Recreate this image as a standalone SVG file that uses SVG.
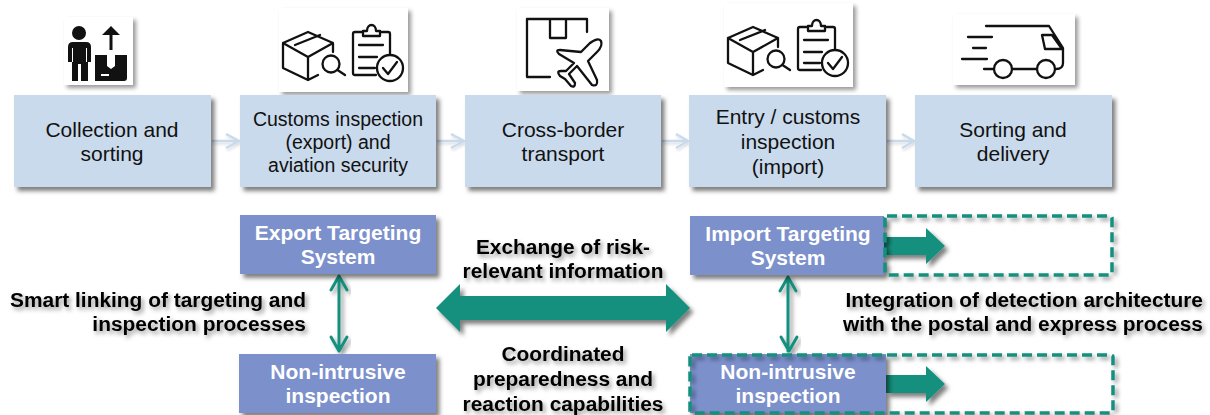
<svg xmlns="http://www.w3.org/2000/svg" width="1210" height="415" viewBox="0 0 1210 415">
<style>
text{font-family:"Liberation Sans",Arial,sans-serif;text-anchor:middle}
.step{fill:#c9daec;filter:url(#sh)}
.sys{fill:#7b90cc;filter:url(#sh)}
.card{fill:#fff;filter:url(#shs)}
.st{font-size:21px;fill:#111}
.sm{font-size:19.500px}
.wt{font-size:21px;font-weight:bold;fill:#fff}
.bt{font-size:20.900px;font-weight:bold;fill:#000;filter:url(#ts)}
.bte{text-anchor:end}
.ln{fill:none;stroke:#111;stroke-width:2.300;stroke-linecap:round;stroke-linejoin:round}
.dash{fill:none;stroke:#15907e;stroke-width:3.500;stroke-dasharray:10 5;filter:url(#shs)}
.thin{fill:none;stroke:#15907e;stroke-width:3;stroke-linecap:round;stroke-linejoin:round;filter:url(#shs)}
.big{fill:#15907e;filter:url(#sh)}
.flow{fill:none;stroke:#c9daec;stroke-width:2.500;filter:url(#shl)}
</style>
<defs>
<filter id="sh" x="-10%" y="-15%" width="125%" height="140%"><feDropShadow dx="3.500" dy="4" stdDeviation="2.200" flood-color="#000" flood-opacity=".5"/></filter>
<filter id="shs" x="-15%" y="-15%" width="135%" height="135%"><feDropShadow dx="3" dy="3" stdDeviation="2" flood-color="#000" flood-opacity=".4"/></filter>
<filter id="shl" x="-30%" y="-30%" width="170%" height="170%"><feDropShadow dx="1" dy="2" stdDeviation="1.500" flood-color="#000" flood-opacity=".15"/></filter>
<filter id="ts" x="-10%" y="-30%" width="125%" height="170%"><feDropShadow dx="2.500" dy="3" stdDeviation="2" flood-color="#000" flood-opacity=".4"/></filter>
<g id="inspect" class="ln">
<path d="M333 52V43L308 32L283 43V68L308 80L318 75M283 43L308 57V80M308 57L333 43M295 45L320 35"/>
<circle cx="331" cy="64" r="8.500"/><path d="M337.500 70L345 75"/>
<path d="M363 32H355Q353 32 353 34V73Q353 75 355 75H376M380 32H388Q390 32 390 34V55M363 36V31H367C367 23 376 23 376 31H380V36ZM359 45H383M359 57H377M359 68H375"/>
<circle cx="390" cy="68" r="13" fill="#fff"/><path d="M383 68L388 74L397 62"/>
</g>
</defs>
<rect width="1210" height="415" fill="#fff"/>
<g id="connectors">
<path class="flow" d="M212 141H239M226 134L239 141L226 148"/>
<path class="flow" d="M437 141H464M451 134L464 141L451 148"/>
<path class="flow" d="M662 141H688M676 134L688 141L676 148"/>
<path class="flow" d="M887 141H914M902 134L914 141L902 148"/>
<path class="thin" d="M339 276V351M331 290L339 276L347 290M331 337L339 351L347 337"/>
<path class="thin" d="M788 277V351M780 291L788 277L796 291M781 337L789 351L797 337"/>
<path class="big" d="M436 308L460 284V296H666V284L690 308L666 332V320H460V332Z"/>
<path class="big" d="M884 237H926V228L945 246L926 264V255H884Z"/>
<path class="big" d="M886 375H926V366L945 384L926 402V393H886Z"/>
</g>
<g id="icon-collection">
<rect class="card" x="64" y="17" width="69" height="68"/>
<circle cx="79" cy="33" r="7" fill="#111"/>
<path d="M73 42H86Q91 42 91 47V62H88V81H81V64H78V81H72V62H68V47Q68 42 73 42Z" fill="#111"/>
<path d="M72.500 48V62M86.500 48V62" stroke="#fff" stroke-width="1"/>
<path d="M111 26L102 35H109.500V50H112.500V35H120Z" fill="#111"/>
<path d="M95 55H107V66L111 69L115 66V55H127V78Q127 81 124 81H95Z" fill="#111"/>
<rect x="101" y="74" width="8" height="2" fill="#fff"/>
</g>
<g id="icon-export"><rect class="card" x="279" y="8" width="129" height="84"/><use href="#inspect"/></g>
<g id="icon-transport">
<rect class="card" x="517" y="8" width="92" height="83"/>
<path class="ln" d="M550 77H527V19H587V32M550 19V38H566V19"/>
<path class="ln" d="M590 43Q598 37 601 41Q603 46 597 52L588 61L597 80Q598 87 592 85L577 66L569 74L575 83Q575 88 571 86L565 79L560 76Q556 71 561 71L566 71L574 63L559 54Q555 50 560 50L581 52Z"/>
</g>
<g id="icon-entry"><rect class="card" x="724" y="3" width="129" height="84"/><use href="#inspect" transform="translate(445 -5)"/></g>
<g id="icon-delivery">
<rect class="card" x="953" y="14" width="122" height="71"/>
<path class="ln" d="M986 26H1049L1063 48V63Q1063 69 1056 69M1037 69H1012M994 69H984M1042 35H1052L1062 49H1045ZM968 37H992M973 48H986M962 59H987"/>
<circle class="ln" cx="1003" cy="69" r="9"/><circle class="ln" cx="1046" cy="69" r="9"/>
</g>
<g id="step-collection"><rect class="step" x="14" y="95" width="197" height="92"/><text class="st" x="112" y="137">Collection and</text><text class="st" x="112" y="161">sorting</text></g>
<g id="step-export"><rect class="step" x="240" y="95" width="196" height="92"/><text class="st sm" x="338" y="126">Customs inspection</text><text class="st sm" x="338" y="149">(export) and</text><text class="st sm" x="338" y="172">aviation security</text></g>
<g id="step-transport"><rect class="step" x="465" y="95" width="196" height="92"/><text class="st" x="563" y="137">Cross-border</text><text class="st" x="563" y="161">transport</text></g>
<g id="step-entry"><rect class="step" x="689" y="95" width="197" height="92"/><text class="st" x="788" y="124">Entry / customs</text><text class="st" x="788" y="149">inspection</text><text class="st" x="788" y="174">(import)</text></g>
<g id="step-delivery"><rect class="step" x="915" y="95" width="197" height="92"/><text class="st" x="1013" y="137">Sorting and</text><text class="st" x="1013" y="161">delivery</text></g>
<g id="sys-export"><rect class="sys" x="240" y="215" width="196" height="59"/><text class="wt" x="338" y="240">Export Targeting</text><text class="wt" x="338" y="264">System</text></g>
<g id="nii-export"><rect class="sys" x="239" y="354" width="197" height="59"/><text class="wt" x="338" y="379">Non-intrusive</text><text class="wt" x="338" y="403">inspection</text></g>
<g id="sys-import"><rect class="sys" x="690" y="216" width="194" height="59"/><text class="wt" x="788" y="241">Import Targeting</text><text class="wt" x="788" y="265">System</text></g>
<g id="nii-import"><rect class="sys" x="690" y="354" width="196" height="59"/><text class="wt" x="788" y="379">Non-intrusive</text><text class="wt" x="788" y="403">inspection</text></g>
<g id="dashed-import"><rect class="dash" x="885" y="216" width="227" height="59" rx="2"/></g>
<g id="dashed-nii"><rect class="dash" x="690" y="355" width="423" height="58" rx="2"/></g>
<g id="labels">
<text class="bt bte" x="306" y="307">Smart linking of targeting and</text><text class="bt bte" x="306" y="331">inspection processes</text>
<text class="bt" x="563" y="254">Exchange of risk-</text><text class="bt" x="563" y="278">relevant information</text>
<text class="bt" x="563" y="361">Coordinated</text><text class="bt" x="563" y="386">preparedness and</text><text class="bt" x="563" y="411">reaction capabilities</text>
<text class="bt bte" x="1203" y="307">Integration of detection architecture</text><text class="bt bte" x="1203" y="331">with the postal and express process</text>
</g>
</svg>
